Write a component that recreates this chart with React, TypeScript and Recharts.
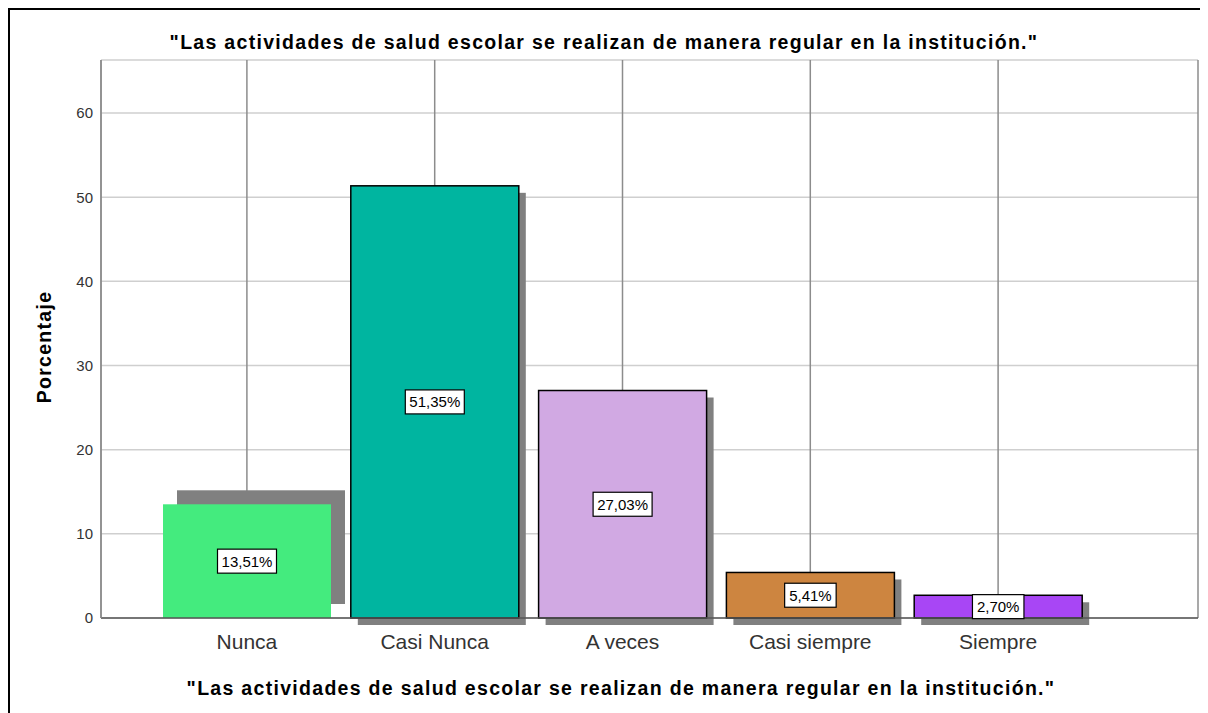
import React from 'react';
import { BarChart, Bar, XAxis, YAxis, CartesianGrid, LabelList } from 'recharts';

const categories = ['Nunca', 'Casi Nunca', 'A veces', 'Casi siempre', 'Siempre'];
const percentages = [13.51, 51.35, 27.03, 5.41, 2.7];
const barColors = ['#44eb7e', '#00b5a0', '#d1a9e3', '#cd8540', '#a846f5'];
const yTicks = [0, 10, 20, 30, 40, 50, 60];

const TITLE = '"Las actividades de salud escolar se realizan de manera regular en la institución."';
const Y_LABEL = 'Porcentaje';

const FONT = '"Liberation Sans", Arial, sans-serif';

const data = categories.map((category, i) => ({
  category,
  value: percentages[i],
  color: barColors[i],
}));

// bar with the grey drop shadow SPSS draws; the first one comes out shifted up and unframed
const ShadowBar = (props: any) => {
  const { x, y, width, height, index, payload } = props;
  const first = index === 0;
  const dx = first ? 14 : 7;
  const dy = first ? -14 : 7;
  return (
    <g>
      <rect x={x + dx} y={y + dy} width={width} height={height} fill="#808080" />
      <rect
        x={x}
        y={y}
        width={width}
        height={height}
        fill={payload.color}
        stroke={first ? 'none' : '#000'}
        strokeWidth={1.5}
      />
    </g>
  );
};

const BoxLabel = (props: any) => {
  const { x, y, width, height, value } = props;
  const text = Number(value).toFixed(2).replace('.', ',') + '%';
  const w = text.length * 7.5 + 14;
  const h = 24;
  const cx = x + width / 2;
  const cy = y + height / 2;
  return (
    <g>
      <rect x={cx - w / 2} y={cy - h / 2} width={w} height={h} fill="#fff" stroke="#000" strokeWidth={1.2} />
      <text x={cx} y={cy + 5.5} textAnchor="middle" fontSize={15} fontFamily={FONT} fill="#000">
        {text}
      </text>
    </g>
  );
};

export default function App() {
  const boldText = { fontFamily: FONT, fontWeight: 700, fontSize: 19.5, letterSpacing: 1.3, fill: '#000' } as const;

  return (
    <div style={{ position: 'relative', width: 1200, height: 705 }}>
      <div
        style={{
          position: 'absolute',
          inset: 0,
          borderTop: '2px solid #000',
          borderLeft: '2px solid #000',
        }}
      />
      <div style={{ position: 'absolute', top: 2, left: 2 }}>
        <BarChart width={1198} height={703} data={data} margin={{ top: 50, right: 10, bottom: 0, left: 0 }}>
          <CartesianGrid horizontal vertical={false} stroke="#cfcfcf" strokeWidth={1.5} />
          <CartesianGrid horizontal={false} vertical stroke="#8c8c8c" strokeWidth={1.5} />
          <XAxis
            dataKey="category"
            height={95}
            padding={{ left: 52, right: 106 }}
            tickLine={false}
            tickMargin={10}
            axisLine={{ stroke: '#555', strokeWidth: 1.5 }}
            tick={{ fontSize: 21, fill: '#333', fontFamily: FONT }}
          />
          <YAxis
            width={91}
            domain={[0, 66.3]}
            ticks={yTicks}
            tickLine={false}
            axisLine={{ stroke: '#8c8c8c', strokeWidth: 1.5 }}
            tick={{ fontSize: 15, fill: '#333', fontFamily: FONT }}
          />
          <Bar dataKey="value" barSize={168} shape={ShadowBar} isAnimationActive={false}>
            <LabelList dataKey="value" content={BoxLabel} />
          </Bar>
        </BarChart>
      </div>
      <svg
        width={1200}
        height={705}
        style={{ position: 'absolute', top: 0, left: 0, pointerEvents: 'none' }}
      >
        <text x={596} y={41} textAnchor="middle" style={boldText}>
          {TITLE}
        </text>
        <text x={613} y={687} textAnchor="middle" style={boldText}>
          {TITLE}
        </text>
        <text transform="translate(43,339) rotate(-90)" textAnchor="middle" style={boldText}>
          {Y_LABEL}
        </text>
      </svg>
    </div>
  );
}
